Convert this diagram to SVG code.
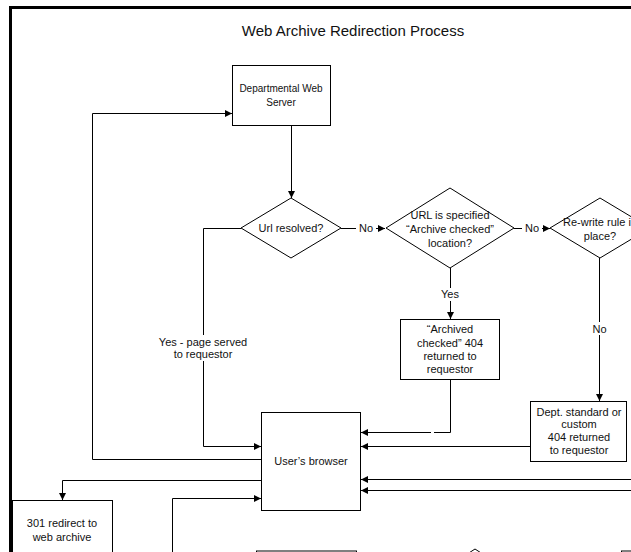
<svg xmlns="http://www.w3.org/2000/svg" width="631" height="552" viewBox="0 0 631 552">
<defs>
<marker id="ah" viewBox="0 0 10 10" refX="10" refY="5" markerWidth="7" markerHeight="7" markerUnits="userSpaceOnUse" orient="auto">
<path d="M0,0 L10,5 L0,10 z" fill="#000"/>
</marker>
<style>
.n{fill:#fff;stroke:#000;stroke-width:1}
.t{font-family:"Liberation Sans",Arial,sans-serif;font-size:11px;fill:#111;text-anchor:middle}
.s{font-size:10px}
.c{fill:none;stroke:#000;stroke-width:1}
.a{marker-end:url(#ah)}
.bg{fill:#fff;stroke:none}
</style>
</defs>
<rect width="631" height="552" fill="#fff"/>
<rect x="10.5" y="7.5" width="700" height="600" fill="none" stroke="#000" stroke-width="3"/>
<text x="353" y="36" font-family="Liberation Sans, Arial, sans-serif" font-size="15" fill="#111" text-anchor="middle">Web Archive Redirection Process</text>

<g id="connectors">
<path class="c a" d="M291.5,125 V198"/>
<path class="c a" d="M341,228.5 H385"/>
<path class="c a" d="M514,228.5 H550"/>
<path class="c a" d="M450.5,268 V319"/>
<path class="c a" d="M599.5,258 V401"/>
<path class="c" d="M450.5,379 V432.5 H434"/>
<path class="c a" d="M431,432.5 H361"/>
<path class="c a" d="M530,446.5 H361"/>
<path class="c a" d="M631,479.5 H361"/>
<path class="c a" d="M631,490.5 H361"/>
<path class="c a" d="M241,228.5 H203.5 V446.5 H261"/>
<path class="c a" d="M261,459.5 H92.5 V113.5 H232"/>
<path class="c a" d="M261,480.5 H62.5 V500"/>
<path class="c a" d="M172.5,552 V498.5 H261"/>
<rect class="bg" x="356" y="222" width="20" height="13"/>
<text class="t" x="366" y="232">No</text>
<rect class="bg" x="522" y="222" width="20" height="13"/>
<text class="t" x="532" y="232">No</text>
<rect class="bg" x="438" y="288" width="24" height="13"/>
<text class="t" x="450" y="298">Yes</text>
<rect class="bg" x="589" y="322" width="21" height="13"/>
<text class="t" x="599.5" y="333">No</text>
<rect class="bg" x="156" y="335" width="95" height="26"/>
<text class="t" x="203" y="346">Yes - page served</text>
<text class="t" x="203" y="358">to requestor</text>
</g>

<g id="dept-server">
<rect class="n" x="232.5" y="65.5" width="98" height="60"/>
<text class="t s" x="281" y="92">Departmental Web</text>
<text class="t s" x="281" y="106">Server</text>
</g>

<g id="url-resolved">
<path class="n" d="M291,198 L341,228 L291,258 L241,228 Z"/>
<text class="t" x="291" y="232">Url resolved?</text>
</g>

<g id="archive-checked-location">
<path class="n" d="M450,188 L514,228 L450,268 L386,228 Z"/>
<text class="t" x="450" y="219">URL is specified</text>
<text class="t" x="450" y="233">“Archive checked”</text>
<text class="t" x="450" y="247">location?</text>
</g>

<g id="rewrite-rule">
<path class="n" d="M600,198 L650,228 L600,258 L550,228 Z"/>
<text class="t" x="600" y="226">Re-write rule in</text>
<text class="t" x="600" y="240">place?</text>
</g>

<g id="archived-checked-404">
<rect class="n" x="400.5" y="319.5" width="99" height="60"/>
<text class="t" x="450" y="333">“Archived</text>
<text class="t" x="450" y="347">checked” 404</text>
<text class="t" x="450" y="360">returned to</text>
<text class="t" x="450" y="373">requestor</text>
</g>

<g id="dept-404">
<rect class="n" x="530.5" y="401.5" width="96" height="60"/>
<text class="t" x="579" y="416">Dept. standard or</text>
<text class="t" x="579" y="428">custom</text>
<text class="t" x="579" y="441">404 returned</text>
<text class="t" x="579" y="454">to requestor</text>
</g>

<g id="users-browser">
<rect class="n" x="261.5" y="412.5" width="99" height="98"/>
<text class="t" x="311" y="465">User’s browser</text>
</g>

<g id="redirect-301">
<rect class="n" x="12.5" y="500.5" width="100" height="60"/>
<text class="t" x="62" y="527">301 redirect to</text>
<text class="t" x="62" y="541">web archive</text>
</g>

<g id="bottom-box-1">
<rect class="n" x="256.5" y="551" width="100" height="30"/>
</g>
<g id="bottom-diamond">
<path class="n" d="M475,549 L515,575 L475,600 L435,575 Z"/>
</g>
<g id="bottom-box-2">
<rect class="n" x="621.5" y="551" width="60" height="30"/>
</g>
</svg>
